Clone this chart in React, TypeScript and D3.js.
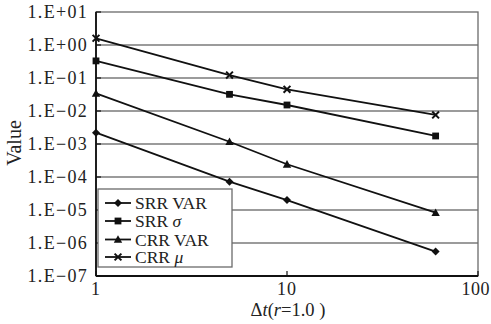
import React from "react";
import * as d3 from "d3";

// Δt sample points shared by all series
const dtValues = [1, 5, 10, 60];

const srrVar = [0.0022, 7.2e-5, 2.0e-5, 5.5e-7];
const srrSigma = [0.33, 0.032, 0.0152, 0.00175];
const crrVar = [0.034, 0.00117, 0.000243, 8.3e-6];
const crrMu = [1.6, 0.123, 0.0455, 0.0076];

const seriesNames = ["SRR VAR", "SRR σ", "CRR VAR", "CRR μ"];
const seriesMarkers = ["diamond", "square", "triangle", "cross"];

const yTickValues = [1e1, 1e0, 1e-1, 1e-2, 1e-3, 1e-4, 1e-5, 1e-6, 1e-7];
const yTickLabels = ["1.E+01", "1.E+00", "1.E−01", "1.E−02", "1.E−03", "1.E−04", "1.E−05", "1.E−06", "1.E−07"];
const xTickValues = [1, 10, 100];
const xTickLabels = ["1", "10", "100"];

const W = 491;
const H = 324;
const left = 96;
const right = 478;
const top = 12;
const bottom = 276;
const font = "'Liberation Serif', 'DejaVu Serif', serif";

function Marker({ kind, x, y }: { kind: string; x: number; y: number }) {
  if (kind === "diamond") {
    const s = 4;
    return <path d={`M${x},${y - s}L${x + s},${y}L${x},${y + s}L${x - s},${y}Z`} fill="#111" />;
  }
  if (kind === "square") {
    const s = 3.4;
    return <rect x={x - s} y={y - s} width={2 * s} height={2 * s} fill="#111" />;
  }
  if (kind === "triangle") {
    const s = 4.2;
    return <path d={`M${x},${y - s}L${x + s},${y + s * 0.8}L${x - s},${y + s * 0.8}Z`} fill="#111" />;
  }
  const s = 3.4;
  return (
    <path d={`M${x - s},${y - s}L${x + s},${y + s}M${x - s},${y + s}L${x + s},${y - s}`} stroke="#111" strokeWidth={2} />
  );
}

export default function App() {
  const x = d3.scaleLog().domain([1, 100]).range([left, right]);
  const y = d3.scaleLog().domain([1e-7, 1e1]).range([bottom, top]);
  const allSeries = [srrVar, srrSigma, crrVar, crrMu];
  const line = d3
    .line<number>()
    .x((_, i) => x(dtValues[i]))
    .y((v) => y(v));

  const legendX = 98;
  const legendY = 189;
  const legendRows = [203, 221, 239.5, 257];

  return (
    <svg width={W} height={H} style={{ position: "absolute", left: 0, top: 0, background: "#fff" }}>
      <rect x={0} y={0} width={W} height={H} fill="#fff" />
      {/* horizontal gridlines */}
      {yTickValues.slice(1, -1).map((v) => (
        <line key={v} x1={left} x2={right} y1={y(v)} y2={y(v)} stroke="#7a7a7a" strokeWidth={1.3} />
      ))}
      {/* frame */}
      <rect x={left} y={top} width={right - left} height={bottom - top} fill="none" stroke="#6a6a6a" strokeWidth={1.3} />
      <line x1={left} x2={left} y1={top} y2={bottom} stroke="#111" strokeWidth={1.8} />
      <line x1={left} x2={right} y1={bottom} y2={bottom} stroke="#111" strokeWidth={1.8} />
      {/* ticks */}
      {yTickValues.map((v) => (
        <line key={"yt" + v} x1={left} x2={left + 5} y1={y(v)} y2={y(v)} stroke="#111" strokeWidth={1.2} />
      ))}
      {xTickValues.map((v) => (
        <line key={"xt" + v} x1={x(v)} x2={x(v)} y1={bottom} y2={bottom - 5} stroke="#111" strokeWidth={1.2} />
      ))}
      {/* tick labels */}
      {yTickValues.map((v, i) => (
        <text
          key={"yl" + v}
          x={88}
          y={y(v)}
          dy="0.36em"
          textAnchor="end"
          fontFamily={font}
          fontSize={18}
          letterSpacing={1.3}
          fill="#222"
        >
          {yTickLabels[i]}
        </text>
      ))}
      {xTickValues.map((v, i) => (
        <text
          key={"xl" + v}
          x={i === 2 ? 490 : x(v)}
          y={295}
          textAnchor={i === 2 ? "end" : "middle"}
          fontFamily={font}
          fontSize={18}
          letterSpacing={i === 2 ? 0.5 : 1}
          fill="#222"
        >
          {xTickLabels[i]}
        </text>
      ))}
      {/* axis titles */}
      <text
        transform={`translate(21,143) rotate(-90)`}
        textAnchor="middle"
        fontFamily={font}
        fontSize={20}
        fill="#222"
      >
        Value
      </text>
      <text x={288} y={316} textAnchor="middle" fontFamily={font} fontSize={18.5} fill="#222">
        Δ<tspan fontStyle="italic">t</tspan>(<tspan fontStyle="italic">r</tspan>=1.0 )
      </text>
      {/* series */}
      {allSeries.map((vals, si) => (
        <g key={seriesNames[si]}>
          <path d={line(vals) || ""} fill="none" stroke="#111" strokeWidth={1.8} />
          {vals.map((v, i) => (
            <Marker key={i} kind={seriesMarkers[si]} x={x(dtValues[i])} y={y(v)} />
          ))}
        </g>
      ))}
      {/* legend */}
      <rect x={legendX} y={legendY} width={134} height={78} fill="#fff" stroke="#6a6a6a" strokeWidth={1.3} />
      {seriesNames.map((name, i) => (
        <g key={"lg" + name}>
          <line x1={105} x2={131} y1={legendRows[i]} y2={legendRows[i]} stroke="#111" strokeWidth={1.8} />
          <Marker kind={seriesMarkers[i]} x={118} y={legendRows[i]} />
          <text x={135} y={legendRows[i]} dy="0.35em" fontFamily={font} fontSize={17.5} fill="#222">
            {name.includes("σ") || name.includes("μ") ? (
              <>
                {name.slice(0, -1)}
                <tspan fontStyle="italic">{name.slice(-1)}</tspan>
              </>
            ) : (
              name
            )}
          </text>
        </g>
      ))}
    </svg>
  );
}
